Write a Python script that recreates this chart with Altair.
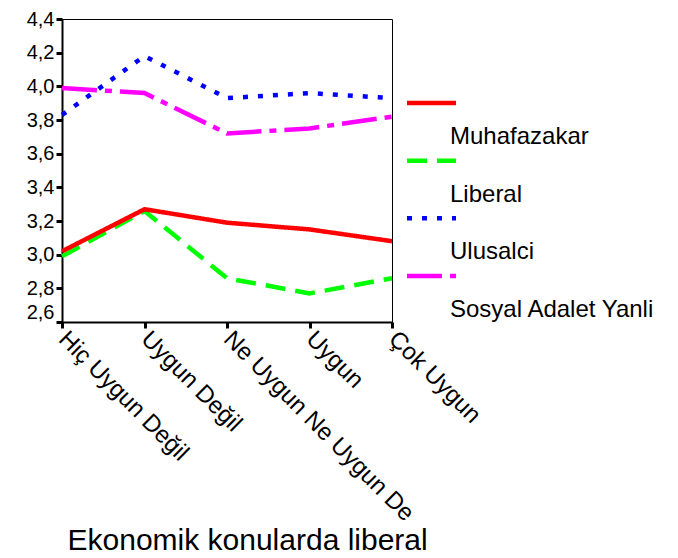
import altair as alt
import pandas as pd

categories = ["Hiç Uygun Değil", "Uygun Değil", "Ne Uygun Ne Uygun De", "Uygun", "Çok Uygun"]
series = ["Muhafazakar", "Liberal", "Ulusalci", "Sosyal Adalet Yanli"]
muhafazakar = [3.02, 3.27, 3.19, 3.15, 3.08]
liberal = [2.99, 3.26, 2.86, 2.77, 2.86]
ulusalci = [3.83, 4.18, 3.93, 3.96, 3.93]
sosyal = [3.99, 3.96, 3.72, 3.75, 3.82]
y_ticks = [2.6, 2.8, 3.0, 3.2, 3.4, 3.6, 3.8, 4.0, 4.2, 4.4]
colors = ["#ff0000", "#00ff00", "#0000ff", "#ff00ff"]
dashes = [[1, 0], [20, 10], [5, 10], [35, 8, 7, 8]]

values = {"Muhafazakar": muhafazakar, "Liberal": liberal,
          "Ulusalci": ulusalci, "Sosyal Adalet Yanli": sosyal}
draw_order = ["Liberal", "Muhafazakar", "Sosyal Adalet Yanli", "Ulusalci"]
rows = []
for s in draw_order:
    for c, v in zip(categories, values[s]):
        rows.append({"kategori": c, "seri": s, "deger": v})
df = pd.DataFrame(rows)
legend_df = pd.DataFrame({"seri": series})

FONT = "Liberation Sans"

color = alt.Color("seri:N", scale=alt.Scale(domain=series, range=colors), legend=None)
dash = alt.StrokeDash("seri:N", scale=alt.Scale(domain=series, range=dashes), legend=None)

lines = alt.Chart(df).mark_line(strokeWidth=4.5, strokeCap="butt", strokeJoin="miter").encode(
    x=alt.X("kategori:O", sort=categories,
            scale=alt.Scale(type="point", padding=0),
            axis=alt.Axis(labelAngle=45, labelAlign="left", labelBaseline="middle",
                          labelFontSize=24, labelFont=FONT, labelColor="black",
                          labelPadding=7, labelLimit=400, labelOverlap=False,
                          tickSize=6, tickWidth=3, tickColor="black",
                          domainWidth=2, domainColor="black",
                          title="Ekonomik konularda liberal", titleFontSize=30,
                          titleFont=FONT, titleFontWeight="normal", titleColor="black",
                          titleAnchor="start", titleAlign="left", titleBaseline="alphabetic",
                          titleX=5, titleY=227)),
    y=alt.Y("deger:Q", scale=alt.Scale(domain=[2.6, 4.4], nice=False, zero=False),
            axis=alt.Axis(values=y_ticks,
                          labelExpr="replace(format(datum.value, '.1f'), '.', ',')",
                          labelFontSize=20, labelFont=FONT, labelColor="black",
                          labelPadding=2, labelOverlap=False,
                          labelBaseline=alt.condition("datum.value < 2.65", alt.value("bottom"), alt.value("middle")),
                          tickSize=6, tickWidth=3, tickColor="black",
                          domainWidth=2, domainColor="black", grid=False, title=None)),
    color=color,
    strokeDash=dash,
)

ypos = alt.Y("seri:N", sort=series,
             scale=alt.Scale(type="point", domain=series, range=[84, 257], padding=0),
             axis=None)

leg_rules = alt.Chart(legend_df).mark_rule(strokeWidth=4.5, strokeCap="butt").encode(
    x=alt.value(345), x2=alt.value(394), y=ypos, color=color, strokeDash=dash,
)
leg_text = alt.Chart(legend_df).mark_text(align="left", baseline="middle", dy=34,
                                          fontSize=24, font=FONT, color="black").encode(
    x=alt.value(388), y=ypos, text="seri:N",
)

chart = alt.layer(lines, leg_rules, leg_text).resolve_scale(y="independent").properties(
    width=330, height=303,
    autosize=alt.AutoSizeParams(type="none"),
    padding={"left": 54, "top": 11, "right": 278, "bottom": 236},
    background="white",
).configure_view(stroke="black", strokeWidth=1)

chart.save("out.html", embed_options={"renderer": "svg", "actions": False})
